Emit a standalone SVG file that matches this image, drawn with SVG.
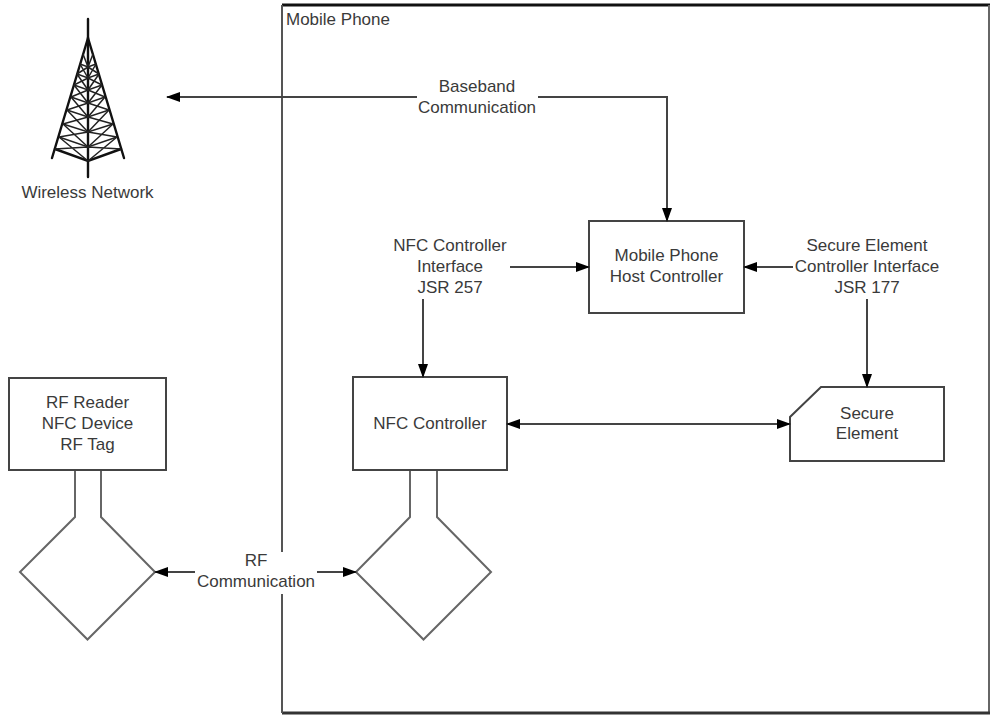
<svg xmlns="http://www.w3.org/2000/svg" width="991" height="717" viewBox="0 0 991 717">
<defs>
<marker id="arr" markerWidth="14" markerHeight="10" refX="13" refY="5" orient="auto" markerUnits="userSpaceOnUse">
<path d="M0,0 L14,5 L0,10 Z" fill="#000"/>
</marker>
<style>
.t{font-family:"Liberation Sans",Arial,sans-serif;font-size:17px;fill:#3a3a3a;text-anchor:middle}
.box{fill:#fff;stroke:#444;stroke-width:2}
.ant{fill:none;stroke:#666;stroke-width:2}
.c{fill:none;stroke:#444;stroke-width:2}
.ca{fill:none;stroke:#444;stroke-width:2;marker-end:url(#arr)}
.tw{fill:none;stroke:#111;stroke-width:2.4;stroke-linecap:round}
.tl{fill:none;stroke:#222;stroke-width:1.5}
</style>
</defs>
<rect width="991" height="717" fill="#fff"/>

<g id="mobile-phone">
<line x1="282" y1="5" x2="990" y2="5" stroke="#111" stroke-width="3"/>
<line x1="989" y1="5" x2="989" y2="713" stroke="#666" stroke-width="2"/>
<line x1="282" y1="713" x2="990" y2="713" stroke="#333" stroke-width="3"/>
<line x1="282" y1="5" x2="282" y2="552" stroke="#555" stroke-width="2"/>
<line x1="282" y1="594" x2="282" y2="713" stroke="#555" stroke-width="2"/>
<text class="t" x="286" y="25" style="text-anchor:start">Mobile Phone</text>
</g>

<g id="wireless-network">
<line class="tw" x1="88" y1="19" x2="88" y2="177"/>
<line class="tw" x1="88" y1="38" x2="52" y2="158"/>
<line class="tw" x1="88" y1="38" x2="124" y2="158"/>
<path class="tw" d="M55,149 L88,161 L121,149"/>
<path class="tl" d="M80,64 L88,67 L96,64 M77,74 L88,78 L99,74 M74,85 L88,90 L102,85 M71,97 L88,103 L105,97 M67,110 L88,117 L109,110 M63,124 L88,132 L113,124 M59,137 L88,147 L117,137"/>
<path class="tl" d="M83,54 L88,67 M93,54 L88,67 M80,64 L88,78 M96,64 L88,78 M88,67 L77,74 M88,67 L99,74 M77,74 L88,90 M99,74 L88,90 M88,78 L74,85 M88,78 L102,85 M74,85 L88,103 M102,85 L88,103 M88,90 L71,97 M88,90 L105,97 M71,97 L88,117 M105,97 L88,117 M88,103 L67,110 M88,103 L109,110 M67,110 L88,132 M109,110 L88,132 M88,117 L63,124 M88,117 L113,124 M63,124 L88,147 M113,124 L88,147 M88,132 L59,137 M88,132 L117,137 M59,137 L88,161 M117,137 L88,161 M88,147 L55,149 M88,147 L121,149"/>
<text class="t" x="87.5" y="198">Wireless Network</text>
</g>

<g id="host-controller">
<rect class="box" x="589" y="221" width="155" height="92"/>
<text class="t" x="666.5" y="261">Mobile Phone</text>
<text class="t" x="666.5" y="282">Host Controller</text>
</g>

<g id="nfc-controller">
<rect class="box" x="353" y="377" width="154" height="93"/>
<text class="t" x="430" y="429">NFC Controller</text>
</g>

<g id="nfc-antenna">
<path class="ant" d="M410,471 V517 L356,572 L423.5,639.5 L491,572 L437,517 V471"/>
</g>

<g id="secure-element">
<path class="box" d="M821,387 H944 V461 H790 V417 Z"/>
<text class="t" x="867" y="419">Secure</text>
<text class="t" x="867" y="439">Element</text>
</g>

<g id="rf-device">
<rect class="box" x="9" y="378" width="157" height="92"/>
<text class="t" x="87.5" y="408">RF Reader</text>
<text class="t" x="87.5" y="429">NFC Device</text>
<text class="t" x="87.5" y="450">RF Tag</text>
</g>

<g id="rf-antenna">
<path class="ant" d="M75,471 V517 L20,572 L87.5,639.5 L155,572 L101,517 V471"/>
</g>

<g id="connectors">
<line class="ca" x1="417" y1="97" x2="167" y2="97"/>
<path class="ca" d="M538,97 H667 V221"/>
<text class="t" x="477" y="92">Baseband</text>
<text class="t" x="477" y="113">Communication</text>

<line class="ca" x1="510" y1="267" x2="589" y2="267"/>
<line class="ca" x1="423" y1="299" x2="423" y2="377"/>
<text class="t" x="450" y="251">NFC Controller</text>
<text class="t" x="450" y="272">Interface</text>
<text class="t" x="450" y="293">JSR 257</text>

<line class="ca" x1="793" y1="267" x2="744" y2="267"/>
<line class="ca" x1="867" y1="299" x2="867" y2="387"/>
<text class="t" x="867" y="251">Secure Element</text>
<text class="t" x="867" y="272">Controller Interface</text>
<text class="t" x="867" y="293">JSR 177</text>

<line class="ca" x1="650" y1="424" x2="507" y2="424"/>
<line class="ca" x1="650" y1="424" x2="790" y2="424"/>

<line class="ca" x1="195" y1="572" x2="155" y2="572"/>
<line class="ca" x1="317" y1="572" x2="356" y2="572"/>
<text class="t" x="256" y="566">RF</text>
<text class="t" x="256" y="587">Communication</text>
</g>
</svg>
